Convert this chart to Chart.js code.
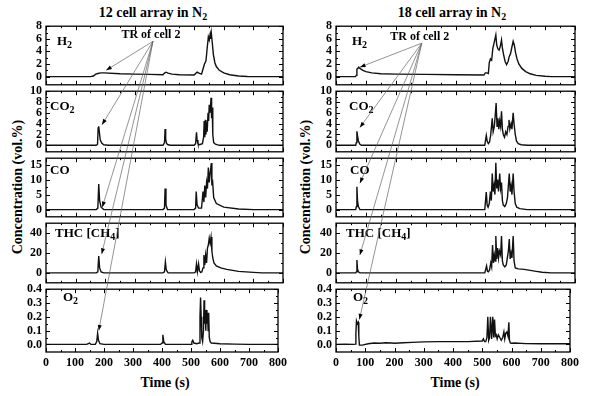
<!DOCTYPE html>
<html>
<head>
<meta charset="utf-8">
<script src="https://cdn.jsdelivr.net/npm/chart.js@4.4.1/dist/chart.umd.min.js"></script>
<style>
  html, body { margin: 0; padding: 0; background: #fff; }
  #page { position: relative; width: 600px; height: 396px; overflow: hidden; background: #fff;
          font-family: "Liberation Serif", "Times New Roman", serif; font-weight: bold; color: #000; }
  .panel { position: absolute; }
  .txt { position: absolute; white-space: nowrap; line-height: 1; }
  .title { font-size: 14px; transform: translateX(-50%); }
  .ylab { font-size: 14px; transform: translate(-50%, -50%) rotate(-90deg); }
  .xlab { font-size: 14px; transform: translateX(-50%); }
  sub { font-size: 10px; vertical-align: -3px; line-height: 0; }
  #overlay { position: absolute; left: 0; top: 0; pointer-events: none; }
</style>
</head>
<body>
<div id="page">
  <div class="txt title" style="left:153px; top:6px;">12 cell array in N<sub>2</sub></div>
  <div class="txt title" style="left:452px; top:6px;">18 cell array in N<sub>2</sub></div>
  <div class="txt ylab" style="left:18px; top:187px;">Concentration (vol.%)</div>
  <div class="txt ylab" style="left:306px; top:187px;">Concentration (vol.%)</div>
  <div class="txt xlab" style="left:165px; top:376px;">Time (s)</div>
  <div class="txt xlab" style="left:455px; top:376px;">Time (s)</div>
  <canvas id="overlay" width="600" height="396"></canvas>
</div>
<script>
// tick labels
const timeTicks = [0, 100, 200, 300, 400, 500, 600, 700, 800];
const h2Ticks = [0, 2, 4, 6, 8];
const co2Ticks = [0, 2, 4, 6, 8, 10];
const coTicks = [0, 5, 10, 15];
const thcTicks = [0, 20, 40];
const o2Ticks = [0, 0.1, 0.2, 0.3, 0.4];

// 12 cell array, [time s, vol.%]
const h2Left = [[0,0],[150,0],[160,0.1],[168,0.4],[175,0.5],[185,0.6],[195,0.6],[250,0.45],[300,0.4],[350,0.35],[395,0.3],[400,0.55],[405,0.7],[412,0.55],[425,0.4],[450,0.3],[500,0.25],[505,0.5],[510,0.7],[518,0.5],[525,0.4],[530,1.2],[535,2.0],[540,2.5],[544,4.5],[548,6.3],[551,5.8],[554,6.7],[556,6.0],[558,6.9],[561,5.5],[565,3.5],[570,2.2],[575,1.6],[585,1.0],[600,0.6],[620,0.3],[650,0.1],[680,0.02],[800,0]];
const co2Left = [[0,0],[170,0],[174,0.2],[176,3.2],[178,3.5],[180,2.5],[183,1.0],[188,0.4],[195,0.1],[210,0],[395,0],[400,0.5],[402,3.0],[404,1.2],[407,0.3],[412,0.1],[420,0],[500,0],[505,0.3],[508,2.4],[510,1.0],[513,0.3],[518,0.1],[528,0.3],[532,1.5],[534,4.5],[536,1.5],[538,4.7],[540,2.0],[542,4.2],[544,2.5],[547,6.0],[549,4.5],[551,7.5],[553,6.0],[555,6.8],[557,8.8],[559,5.0],[561,7.0],[563,2.0],[566,0.5],[572,0.2],[585,0],[800,0]];
const coLeft = [[0,0],[170,0],[175,0.5],[178,8.5],[181,3],[186,0.8],[195,0],[395,0],[400,0.5],[402,7],[405,1.5],[410,0],[500,0],[505,0.5],[507,6],[510,1.5],[515,0.5],[525,0.5],[530,6],[533,2.5],[536,8],[539,4],[542,9],[545,7],[548,14],[551,9],[554,12],[558,15.5],[560,8],[562,10],[566,4],[575,2],[600,0.8],[650,0.2],[700,0],[800,0]];
const thcLeft = [[0,0],[170,0],[175,1],[178,17],[181,5],[186,1],[195,0],[395,0],[400,1],[403,11],[406,3],[412,0],[500,0],[505,1],[508,9],[511,1],[515,9],[518,2],[522,0.5],[526,1],[530,5],[533,18],[536,8],[539,18],[542,10],[545,25],[548,28],[551,35],[554,30],[557,36],[560,22],[563,15],[567,10],[575,7],[590,5],[610,3.5],[650,1.5],[700,0.5],[730,0],[800,0]];
const o2Left = [[0,0],[140,0],[150,0.01],[155,0],[170,0],[175,0.02],[178,0.08],[181,0.03],[186,0.005],[200,0],[300,0],[395,0],[400,0.01],[403,0.07],[406,0.02],[412,0],[500,0],[503,0.02],[506,0.03],[510,0.01],[520,0.005],[528,0.01],[531,0.2],[533,0.34],[535,0.2],[537,0.05],[540,0.02],[543,0.1],[545,0.32],[547,0.15],[549,0.25],[551,0.1],[553,0.25],[555,0.15],[557,0.23],[559,0.1],[561,0.23],[563,0.05],[566,0.02],[570,0.01],[600,0.005],[650,0.002],[700,0],[800,0]];

// 18 cell array, [time s, vol.%]
const h2Right = [[0,0],[65,0],[68,0.2],[70,1.2],[73,1.3],[76,1.5],[80,1.3],[90,1.0],[100,0.8],[120,0.6],[150,0.45],[200,0.4],[300,0.35],[400,0.3],[495,0.25],[500,0.6],[505,0.6],[510,0.5],[513,2.2],[517,2.8],[521,2.6],[525,4.5],[530,5.5],[535,6.6],[538,5.0],[542,4.4],[546,4.2],[550,4.8],[554,5.8],[557,4.5],[561,3.5],[566,2.4],[571,1.9],[576,2.4],[580,3.2],[584,3.6],[588,4.5],[593,5.6],[597,5.0],[601,3.8],[606,2.8],[612,2.0],[622,1.3],[635,0.8],[650,0.45],[670,0.2],[700,0.05],[720,0],[800,0]];
const co2Right = [[0,0],[66,0],[68,0.5],[70,2.6],[72,1.8],[75,0.8],[80,0.2],[85,0],[498,0],[503,1.8],[506,0.8],[510,0.3],[514,0.6],[518,2.0],[523,5.0],[526,2.5],[530,3.5],[533,5.5],[536,7.8],[539,3.5],[542,5.0],[545,3.0],[548,4.5],[551,3.5],[554,6.3],[557,3.0],[560,2.0],[564,1.5],[568,2.5],[572,2.0],[576,3.5],[579,4.7],[582,3.0],[586,4.0],[589,3.0],[593,6.0],[596,4.0],[600,2.0],[604,0.8],[610,0.3],[620,0.1],[640,0],[800,0]];
const coRight = [[0,0],[66,0],[68,1],[70,7.6],[72,3],[75,1],[80,0],[498,0],[503,5.8],[506,1.5],[509,0.8],[513,2],[517,6],[520,3],[523,12],[526,6],[529,8],[532,5],[535,15.6],[538,7],[541,10],[544,6],[548,12],[551,7],[554,9],[557,3],[560,1.5],[565,1],[570,2],[574,4],[577,8],[580,12],[583,6],[586,8],[589,5],[593,12],[596,6],[600,2],[605,0.8],[615,0.3],[640,0],[800,0]];
const thcRight = [[0,0],[66,0],[68,1],[70,13],[72,4],[75,1],[80,0],[498,0],[504,7],[507,1.5],[510,1],[514,3],[518,10],[521,6],[524,28],[527,10],[530,18],[533,12],[535,37],[538,14],[541,25],[544,15],[547,22],[551,18],[554,37],[557,12],[560,8],[565,6],[570,8],[574,16],[577,22],[580,34],[583,14],[586,20],[589,15],[593,37],[596,12],[600,5],[610,4],[630,3.5],[650,2.5],[670,1.5],[690,0.6],[720,0],[800,0]];
const o2Right = [[0,0],[30,0.002],[60,0],[66,0.002],[68,0.08],[70,0.17],[73,0.15],[76,0.16],[78,0.06],[80,-0.005],[90,-0.005],[110,0.005],[130,0.01],[150,0.008],[170,0.012],[190,0.01],[200,0.008],[230,0.012],[260,0.015],[300,0.018],[350,0.02],[400,0.02],[450,0.02],[500,0.025],[504,0.04],[508,0.02],[512,0.02],[516,0.05],[519,0.2],[522,0.03],[525,0.05],[528,0.2],[532,0.04],[536,0.2],[539,0.05],[542,0.18],[545,0.06],[548,0.07],[551,0.04],[555,0.07],[560,0.05],[565,0.03],[570,0.05],[574,0.09],[577,0.04],[580,0.08],[584,0.09],[588,0.06],[591,0.16],[593,0.03],[596,0.01],[600,0.008],[610,0.01],[650,0.006],[700,0.005],[800,0.005]];

// "TR of cell 2" arrows: origin and tips in [time, value] of each panel
const trLeftOrigin = [361, 5.6];
const trLeftTimes = [203, 189, 190, 188, 182];
const trLeftValues = [1.0, 3.8, 0.8, 19, 0.1];
const trRightOrigin = [287, 5.3];
const trRightTimes = [80, 80, 80, 80, 80];
const trRightValues = [1.5, 3.3, 8.8, 18, 0.18];

const FONT = '"Liberation Serif", "Times New Roman", serif';
const AXIS_W = 46;
const panelTops = [23, 88, 155, 220, 286];
const panelBottom = 352;
const yRanges = [[-1.3, 8], [-1.2, 10], [-2.4, 17.1], [-10, 50], [-0.055, 0.4]];
const yTicks = [h2Ticks, co2Ticks, coTicks, thcTicks, o2Ticks];
const gasLabels = [
  [["H"], ["2", true]],
  [["CO"], ["2", true]],
  [["CO"]],
  [["THC [CH"], ["4", true], ["]"]],
  [["O"], ["2", true]]
];
const labelY = [19, 19, 16, 14, 12];

const columns = [
  { left: 46, width: 237, series: [h2Left, co2Left, coLeft, thcLeft, o2Left],
    origin: trLeftOrigin, trTimes: trLeftTimes, trValues: trLeftValues, labelX: [11, 4, 4, 9, 17] },
  { left: 336, width: 239, series: [h2Right, co2Right, coRight, thcRight, o2Right],
    origin: trRightOrigin, trTimes: trRightTimes, trValues: trRightValues, labelX: [16, 13, 14, 10, 17] }
];

function drawRich(ctx, parts, x, y) {
  ctx.fillStyle = "#000";
  ctx.textBaseline = "alphabetic";
  ctx.textAlign = "left";
  parts.forEach(([text, sub]) => {
    ctx.font = sub ? "bold 10px " + FONT : "bold 13px " + FONT;
    ctx.fillText(text, x, sub ? y + 3 : y);
    x += ctx.measureText(text).width;
  });
}

// frame, inward ticks on all four sides, gas label
const decorPlugin = {
  id: "decor",
  afterDraw(chart, args, opts) {
    const ctx = chart.ctx;
    const a = chart.chartArea;
    const xs = chart.scales.x;
    const ys = chart.scales.y;
    ctx.save();
    ctx.strokeStyle = "#000";
    ctx.lineWidth = 1.3;
    ctx.strokeRect(a.left, a.top, a.right - a.left, a.bottom - a.top);
    ctx.lineWidth = 1;
    ctx.beginPath();
    const xMark = (v, len) => {
      const px = Math.round(xs.getPixelForValue(v)) + 0.5;
      ctx.moveTo(px, a.bottom); ctx.lineTo(px, a.bottom - len);
      ctx.moveTo(px, a.top); ctx.lineTo(px, a.top + len);
    };
    const yMark = (v, len) => {
      const py = Math.round(ys.getPixelForValue(v)) + 0.5;
      ctx.moveTo(a.left, py); ctx.lineTo(a.left + len, py);
      ctx.moveTo(a.right, py); ctx.lineTo(a.right - len, py);
    };
    timeTicks.forEach((v, i) => {
      xMark(v, 4);
      if (i < timeTicks.length - 1) xMark((v + timeTicks[i + 1]) / 2, 2);
    });
    opts.ticks.forEach((v, i) => {
      yMark(v, 4);
      if (i < opts.ticks.length - 1) yMark((v + opts.ticks[i + 1]) / 2, 2);
    });
    ctx.stroke();
    drawRich(ctx, opts.label, a.left + opts.lx, a.top + opts.ly);
    ctx.restore();
  }
};

const page = document.getElementById("page");
const charts = [];

columns.forEach((col, c) => {
  charts.push([]);
  col.series.forEach((rows, i) => {
    const top = panelTops[i];
    const h = (i < 4 ? panelTops[i + 1] : panelBottom) - top;
    const isBottom = i === 4;
    const boxLeft = col.left - AXIS_W;
    const boxTop = top - 8;
    const div = document.createElement("div");
    div.className = "panel";
    div.style.left = boxLeft + "px";
    div.style.top = boxTop + "px";
    const canvas = document.createElement("canvas");
    canvas.width = AXIS_W + col.width + 8;
    canvas.height = h + 8 + (isBottom ? 24 : 8);
    div.appendChild(canvas);
    page.insertBefore(div, document.getElementById("overlay"));

    const chart = new Chart(canvas, {
      type: "line",
      data: {
        datasets: [{
          data: rows.map(([x, y]) => ({ x, y })),
          borderColor: "#111",
          borderWidth: 1.4,
          pointRadius: 0,
          tension: 0,
          fill: false
        }]
      },
      options: {
        responsive: false,
        animation: false,
        devicePixelRatio: 1,
        layout: { padding: { left: 0, right: 8, top: 8, bottom: isBottom ? 0 : 8 } },
        scales: {
          x: {
            type: "linear",
            min: 0,
            max: 800,
            grid: { display: false, drawTicks: false },
            border: { display: false },
            afterBuildTicks: (s) => { s.ticks = timeTicks.map((v) => ({ value: v })); },
            afterFit: (s) => { s.height = isBottom ? 24 : 0; },
            ticks: {
              display: isBottom,
              autoSkip: false,
              maxRotation: 0,
              padding: 4,
              color: "#000",
              font: { family: FONT, size: 12, weight: "bold" }
            }
          },
          y: {
            min: yRanges[i][0],
            max: yRanges[i][1],
            grid: { display: false, drawTicks: false },
            border: { display: false },
            afterBuildTicks: (s) => { s.ticks = yTicks[i].map((v) => ({ value: v })); },
            afterFit: (s) => { s.width = AXIS_W; },
            ticks: {
              autoSkip: false,
              padding: 4,
              color: "#000",
              font: { family: FONT, size: 12, weight: "bold" },
              callback: (v) => (i === 4 ? Number(v).toFixed(1) : String(v))
            }
          }
        },
        plugins: {
          legend: { display: false },
          tooltip: { enabled: false },
          decor: { ticks: yTicks[i], label: gasLabels[i], lx: col.labelX[i], ly: labelY[i] }
        }
      },
      plugins: [decorPlugin]
    });
    charts[c].push({ chart, left: boxLeft, top: boxTop });
  });
});

// TR of cell 2 annotation with arrows
const overlay = document.getElementById("overlay");
const octx = overlay.getContext("2d");

function toPage(entry, t, v) {
  return [
    entry.left + entry.chart.scales.x.getPixelForValue(t),
    entry.top + entry.chart.scales.y.getPixelForValue(v)
  ];
}

columns.forEach((col, c) => {
  const [ox, oy] = toPage(charts[c][0], col.origin[0], col.origin[1]);
  octx.fillStyle = "#000";
  octx.font = "bold 12px " + FONT;
  octx.textAlign = "center";
  octx.textBaseline = "alphabetic";
  octx.fillText("TR of cell 2", ox - 2, oy - 3);

  col.trTimes.forEach((t, i) => {
    const [tx, ty] = toPage(charts[c][i], t, col.trValues[i]);
    octx.strokeStyle = "#666";
    octx.lineWidth = 0.7;
    octx.beginPath();
    octx.moveTo(ox, oy);
    octx.lineTo(tx, ty);
    octx.stroke();
    const ang = Math.atan2(ty - oy, tx - ox);
    octx.fillStyle = "#000";
    octx.beginPath();
    octx.moveTo(tx, ty);
    octx.lineTo(tx - 6 * Math.cos(ang - 0.35), ty - 6 * Math.sin(ang - 0.35));
    octx.lineTo(tx - 6 * Math.cos(ang + 0.35), ty - 6 * Math.sin(ang + 0.35));
    octx.closePath();
    octx.fill();
  });
});
</script>
</body>
</html>
